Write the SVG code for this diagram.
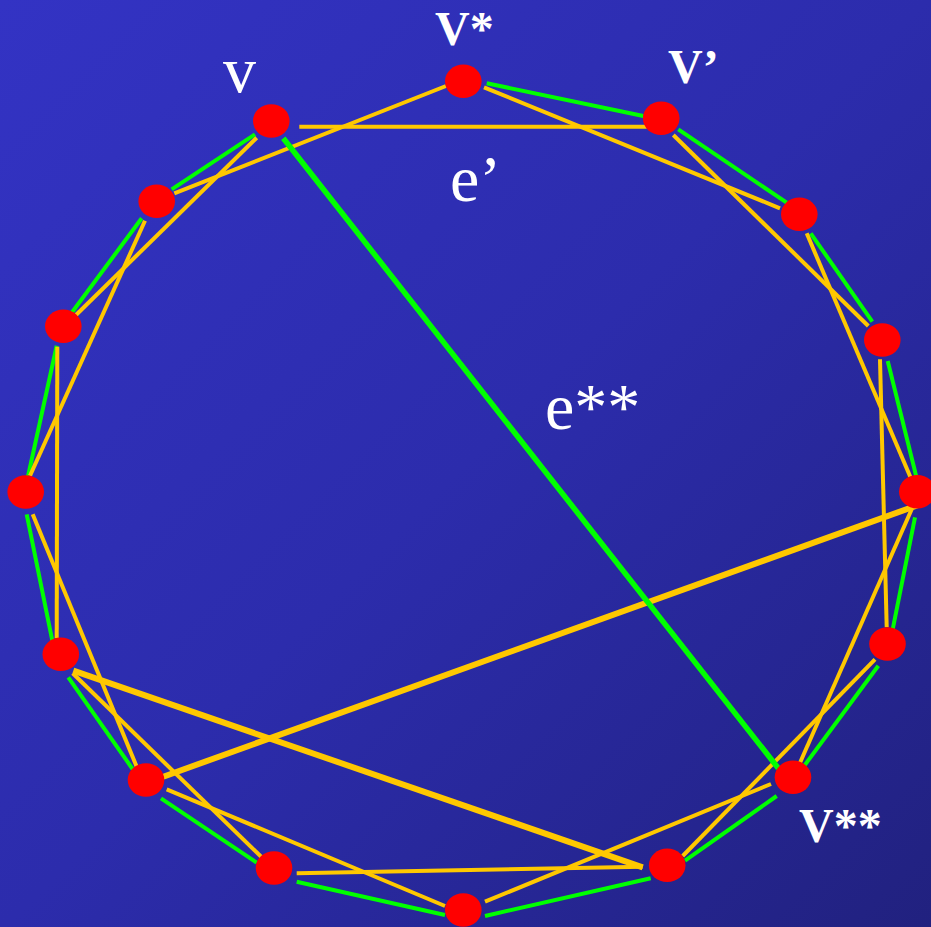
<svg xmlns="http://www.w3.org/2000/svg" width="931" height="927" viewBox="0 0 931 927">
<defs>
<linearGradient id="bg" x1="0" y1="0" x2="931" y2="927" gradientUnits="userSpaceOnUse">
<stop offset="0" stop-color="#3333C4"/>
<stop offset="0.5" stop-color="#2C2CAC"/>
<stop offset="1" stop-color="#21217F"/>
</linearGradient>
<style>
.g{stroke:#00FF00;stroke-width:4;fill:none}
.gt{stroke:#00FF00;stroke-width:5.5;fill:none}
.y{stroke:#FFC800;stroke-width:4;fill:none}
.yt{stroke:#FFC800;stroke-width:6;fill:none}
.n{fill:#FF0000}
.lbl{font-family:"Liberation Serif","Times New Roman",serif;fill:#FFFFFF}
.b{font-weight:bold;font-size:48px}
.r{font-size:66px}
</style>
</defs>
<rect x="0" y="0" width="931" height="927" fill="url(#bg)"/>
<g id="connectors">
<line class="g" x1="486.7" y1="83.3" x2="643.3" y2="116"/>
<line class="g" x1="678.3" y1="129.3" x2="786.7" y2="202.7"/>
<line class="g" x1="810.7" y1="233.3" x2="872.3" y2="321.7"/>
<line class="g" x1="887.7" y1="361" x2="916.7" y2="478.3"/>
<line class="g" x1="915" y1="517.3" x2="892.7" y2="629.3"/>
<line class="g" x1="878.3" y1="665.7" x2="804.3" y2="765.7"/>
<line class="g" x1="776.7" y1="796" x2="685" y2="860.7"/>
<line class="g" x1="650.7" y1="878.3" x2="485" y2="916"/>
<line class="g" x1="445" y1="915" x2="296.7" y2="881.7"/>
<line class="g" x1="256.7" y1="862.7" x2="161" y2="798.3"/>
<line class="g" x1="133.3" y1="770" x2="68.3" y2="677.3"/>
<line class="g" x1="52.7" y1="642.7" x2="26.7" y2="514.3"/>
<line class="g" x1="27.7" y1="477.7" x2="56.7" y2="345.7"/>
<line class="g" x1="71.7" y1="312.7" x2="141.7" y2="218.3"/>
<line class="g" x1="171.7" y1="189.3" x2="255" y2="134.3"/>
<line class="y" x1="299.3" y1="126.7" x2="646.7" y2="126.7"/>
<line class="y" x1="174.3" y1="193.3" x2="446" y2="86"/>
<line class="y" x1="76" y1="315" x2="256.7" y2="137.7"/>
<line class="y" x1="484" y1="87.3" x2="780" y2="208.3"/>
<line class="y" x1="673.3" y1="135" x2="868.3" y2="326"/>
<line class="y" x1="806.7" y1="233.3" x2="910.7" y2="477.7"/>
<line class="y" x1="880" y1="359.3" x2="886.7" y2="627.3"/>
<line class="y" x1="911.7" y1="509.3" x2="800" y2="762.7"/>
<line class="y" x1="875" y1="659.3" x2="682.7" y2="856"/>
<line class="y" x1="771" y1="784" x2="485" y2="901.7"/>
<line class="y" x1="642.7" y1="866.7" x2="296.7" y2="873.3"/>
<line class="y" x1="445" y1="906" x2="166.7" y2="789.3"/>
<line class="y" x1="261.7" y1="857.3" x2="72.7" y2="673.3"/>
<line class="y" x1="136.7" y1="766.7" x2="32.7" y2="514.3"/>
<line class="y" x1="56.7" y1="638.3" x2="57.3" y2="346.7"/>
<line class="y" x1="30" y1="475.7" x2="145" y2="220.7"/>
<line class="yt" x1="918.3" y1="505" x2="163.3" y2="776.7"/>
<line class="yt" x1="73.3" y1="670.7" x2="642.7" y2="867.3"/>
<line class="gt" x1="283.3" y1="138.3" x2="778.3" y2="768.3"/>
</g>
<g id="n1"><ellipse class="n" cx="463.3" cy="81.3" rx="18.3" ry="16.8"/></g>
<g id="n2"><ellipse class="n" cx="661.2" cy="118.3" rx="18.3" ry="16.8"/></g>
<g id="n3"><ellipse class="n" cx="799.3" cy="214.3" rx="18.3" ry="16.8"/></g>
<g id="n4"><ellipse class="n" cx="882.3" cy="340" rx="18.3" ry="16.8"/></g>
<g id="n5"><ellipse class="n" cx="917.3" cy="491.7" rx="18.3" ry="16.8"/></g>
<g id="n6"><ellipse class="n" cx="887.5" cy="644" rx="18.3" ry="16.8"/></g>
<g id="n7"><ellipse class="n" cx="793" cy="777.3" rx="18.3" ry="16.8"/></g>
<g id="n8"><ellipse class="n" cx="667.2" cy="865.3" rx="18.3" ry="16.8"/></g>
<g id="n9"><ellipse class="n" cx="463.3" cy="910" rx="18.3" ry="16.8"/></g>
<g id="n10"><ellipse class="n" cx="274" cy="868" rx="18.3" ry="16.8"/></g>
<g id="n11"><ellipse class="n" cx="146" cy="780" rx="18.3" ry="16.8"/></g>
<g id="n12"><ellipse class="n" cx="60.8" cy="654.3" rx="18.3" ry="16.8"/></g>
<g id="n13"><ellipse class="n" cx="25.7" cy="492" rx="18.3" ry="16.8"/></g>
<g id="n14"><ellipse class="n" cx="63.3" cy="326.3" rx="18.3" ry="16.8"/></g>
<g id="n15"><ellipse class="n" cx="156.7" cy="201.3" rx="18.3" ry="16.8"/></g>
<g id="n16"><ellipse class="n" cx="271.3" cy="121" rx="18.3" ry="16.8"/></g>
<g id="labels">
<text class="lbl r" x="223" y="92">v</text>
<text class="lbl b" x="435" y="45">V*</text>
<text class="lbl b" x="668" y="83">V’</text>
<text class="lbl b" x="799" y="842">V**</text>
<text class="lbl r" x="450" y="201">e’</text>
<text class="lbl r" x="545" y="429">e**</text>
</g>
</svg>
